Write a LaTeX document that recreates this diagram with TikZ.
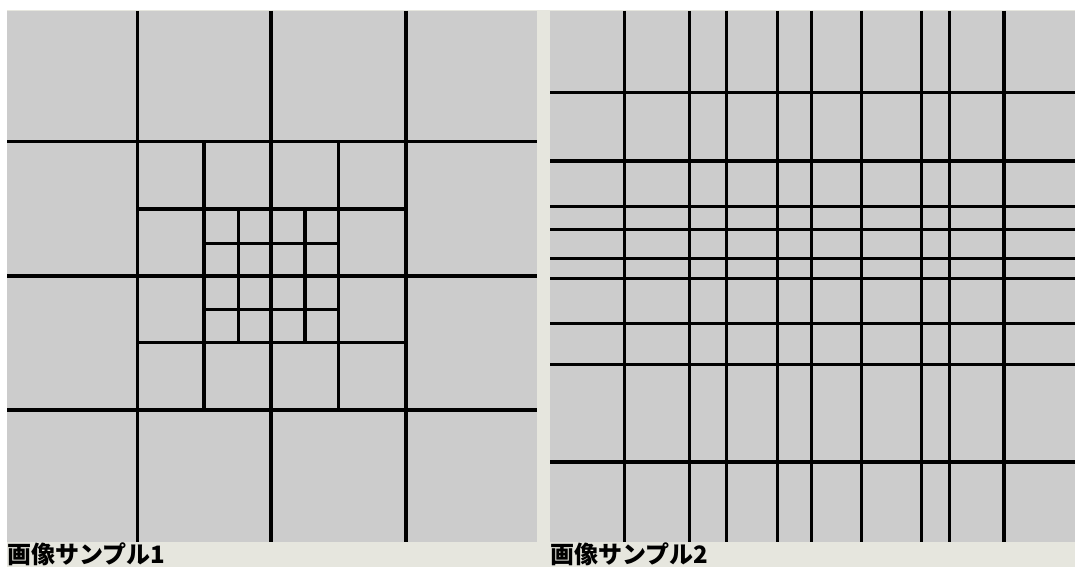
\documentclass[tikz,border=0pt]{standalone}
\usepackage{fontspec}
\usepackage{xcolor}
\usepackage{tikz}
\newfontfamily\jpfont{Noto Sans CJK JP}
\definecolor{panelgray}{HTML}{CCCCCC}
\definecolor{framebeige}{HTML}{E6E6DE}

\begin{document}
\begin{tikzpicture}[
    x=1pt, y=-1pt,
    panel/.style={fill=panelgray, draw=none},
    cut/.style={line width=3.5pt, black},
    maincut/.style={line width=4.2pt, black},
    caption/.style={anchor=base west, inner sep=0pt, font=\jpfont\bfseries\fontsize{24}{24}\selectfont}
  ]
    \useasboundingbox (0,0) rectangle (1075,567);
    \clip (0,0) rectangle (1075,567);
    \fill[white] (0,0) rectangle (1075,567);
    \fill[framebeige] (7,10) rectangle (1075,567);
    % sample 1: nested quarter split
    \fill[panel] (7,11) rectangle (537,542);
    \foreach \x in {137.3,406} \draw[cut] (\x,11) -- (\x,542);
    \foreach \y in {141.7,410} \draw[cut] (7,\y) -- (537,\y);
    \draw[maincut] (271.3,11) -- (271.3,542);
    \draw[maincut] (7,275.7) -- (537,275.7);
    \foreach \x in {204,338.7} \draw[cut] (\x,141.7) -- (\x,410);
    \foreach \y in {209,342.7} \draw[cut] (137.3,\y) -- (406,\y);
    \foreach \x in {238.3,305} \draw[cut] (\x,209) -- (\x,342.7);
    \foreach \y in {243.3,309.3} \draw[cut] (204,\y) -- (338.7,\y);
    % sample 2: irregular grid
    \fill[panel] (550,11) rectangle (1075,542);
    \foreach \x in {624.7,689.3,726.7,777.7,811.7,861.7,921.7,949.3,1004}
      \draw[cut] (\x,11) -- (\x,542);
    \foreach \y in {92.3,161,206.3,229.7,258.3,278.7,323.3,364.7,462}
      \draw[cut] (550,\y) -- (1075,\y);
    \node[caption] (cap1) at (7,563.5) {画像サンプル1};
    \node[caption] (cap2) at (550,563.5) {画像サンプル2};
  \end{tikzpicture}
\end{document}
